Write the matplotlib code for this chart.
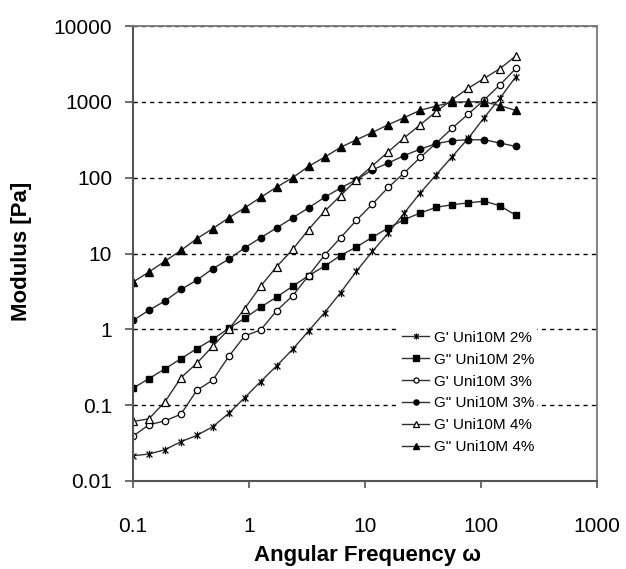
import matplotlib
matplotlib.use("Agg")
import matplotlib.pyplot as plt
from matplotlib.path import Path
from matplotlib.ticker import FixedLocator, FixedFormatter, NullLocator

plt.rcParams['font.family'] = ['Liberation Sans', 'DejaVu Sans']

# ---- data ----
freq = [0.1, 0.137, 0.188, 0.259, 0.355, 0.487, 0.669, 0.919, 1.26, 1.73,
        2.38, 3.26, 4.48, 6.15, 8.44, 11.6, 15.9, 21.8, 30.0, 41.2,
        56.5, 77.6, 106.5, 146.0, 200.0]

gp_2 = [0.0215, 0.0227, 0.0258, 0.033, 0.040, 0.052, 0.078, 0.126, 0.205, 0.33,
        0.546, 0.95, 1.66, 3.04, 5.85, 10.7, 18.7, 34.3, 63, 110,
        190, 330, 620, 1120, 2150]
gpp_2 = [0.167, 0.224, 0.30, 0.41, 0.557, 0.74, 1.03, 1.4, 1.96, 2.66,
         3.7, 5.1, 6.8, 9.4, 12.2, 16.4, 21.8, 28, 34.3, 40.7,
         44, 46.5, 49, 42.5, 31.9]
gp_3 = [0.039, 0.055, 0.062, 0.076, 0.157, 0.214, 0.44, 0.82, 0.98, 1.76,
        2.77, 5.1, 9.5, 16.1, 27.5, 45, 74.6, 116, 185, 286,
        450, 690, 1060, 1680, 2760]
gpp_3 = [1.31, 1.78, 2.36, 3.36, 4.45, 6.3, 8.4, 11.9, 16.1, 21.8,
         29.5, 40, 55, 73, 94, 127, 156, 196, 238, 281,
         308, 316, 316, 286, 258]
gp_4 = [0.061, 0.066, 0.11, 0.23, 0.357, 0.6, 1.0, 1.88, 3.7, 6.7,
        11.3, 20.7, 36, 58, 94, 144, 220, 336, 500, 745,
        1070, 1510, 2040, 2750, 4030]
gpp_4 = [4.2, 5.7, 7.9, 11, 15.7, 21.3, 29.5, 40, 55, 75,
         100, 141, 186, 251, 316, 396, 500, 620, 775, 880,
         990, 1000, 1000, 890, 770]

labels = ["G' Uni10M 2%", 'G" Uni10M 2%', "G' Uni10M 3%",
          'G" Uni10M 3%', "G' Uni10M 4%", 'G" Uni10M 4%']

x_ticks = [0.1, 1, 10, 100, 1000]
x_ticklabels = ['0.1', '1', '10', '100', '1000']
y_ticks = [0.01, 0.1, 1, 10, 100, 1000, 10000]
y_ticklabels = ['0.01', '0.1', '1', '10', '100', '1000', '10000']

# asterisk marker
star = Path([(-1, -1), (1, 1), (-1, 1), (1, -1), (0, -1.3), (0, 1.3)],
            [Path.MOVETO, Path.LINETO, Path.MOVETO, Path.LINETO, Path.MOVETO, Path.LINETO])

fig = plt.figure(figsize=(6.26, 5.69), dpi=100)
ax = fig.add_axes([133/626, 1-481/569, 464/626, 455/569])

lc = '#303030'
series = [
    (gp_2, dict(marker=star, ms=5.5, mfc='none', mec='black', mew=0.9)),
    (gpp_2, dict(marker='s', ms=5, mfc='black', mec='black')),
    (gp_3, dict(marker='o', ms=4.6, mfc='white', mec='black', mew=0.9)),
    (gpp_3, dict(marker='o', ms=4.6, mfc='black', mec='black')),
    (gp_4, dict(marker='^', ms=6, mfc='white', mec='black', mew=0.9)),
    (gpp_4, dict(marker='^', ms=6, mfc='black', mec='black')),
]
for (vals, st), lab in zip(series, labels):
    ax.plot(freq, vals, color=lc, lw=1.0, label=lab, **st)

ax.set_xscale('log')
ax.set_yscale('log')
ax.set_xlim(0.1, 1000)
ax.set_ylim(0.01, 10000)

ax.xaxis.set_major_locator(FixedLocator(x_ticks))
ax.xaxis.set_major_formatter(FixedFormatter(x_ticklabels))
ax.yaxis.set_major_locator(FixedLocator(y_ticks))
ax.yaxis.set_major_formatter(FixedFormatter(y_ticklabels))
ax.xaxis.set_minor_locator(NullLocator())
ax.yaxis.set_minor_locator(NullLocator())

ax.yaxis.grid(True, which='major', linestyle=(0, (3, 3)), color='black', lw=1.0)
ax.set_axisbelow(True)

for s in ['left', 'bottom']:
    ax.spines[s].set_color('#555555')
    ax.spines[s].set_linewidth(1.5)
for s in ['top', 'right']:
    ax.spines[s].set_color('#777777')
    ax.spines[s].set_linewidth(1.3)

ax.tick_params(axis='y', direction='out', length=6, width=1.2, color='#555555',
               labelsize=15, pad=9)
ax.tick_params(axis='x', direction='out', length=5, width=1.2, color='#555555',
               labelsize=15, pad=21)

fig.text(22/626, 1-251/569, 'Modulus [Pa]', rotation=90, ha='center', va='center',
         fontsize=16, fontweight='bold')
fig.text(367/626, 1-555/569, 'Angular Frequency ω', ha='center', va='center',
         fontsize=16, fontweight='bold')

leg = ax.legend(loc='center', bbox_to_anchor=(0.722, 0.1945), fontsize=11,
                frameon=True, framealpha=1, facecolor='white', edgecolor='none',
                labelspacing=0.52, handlelength=1.8, handletextpad=0.3,
                borderpad=0.2, fancybox=False, markerscale=0.8)

fig.savefig('out.png', dpi=100)
